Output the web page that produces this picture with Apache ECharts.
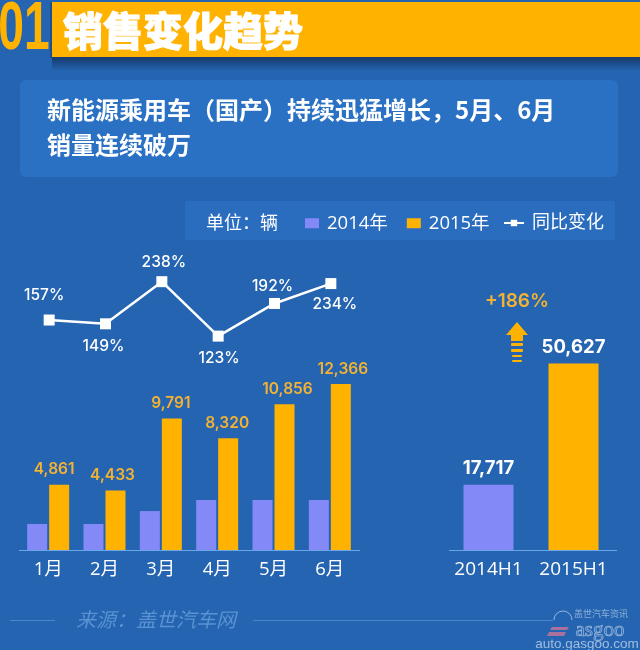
<!DOCTYPE html>
<html lang="zh">
<head>
  <meta charset="UTF-8">
  <title>销售变化趋势</title>
  <style>
    html, body { margin: 0; padding: 0; background: #2464b0; }
    #main { width: 640px; height: 650px; }
  </style>
  <script src="https://cdn.jsdelivr.net/npm/echarts@6/dist/echarts.min.js"></script>
</head>
<body>
  <div id="main"></div>
  <script>
    // 数据
    var months = ['1月', '2月', '3月', '4月', '5月', '6月'];
    var sales2014 = [1940, 1940, 2900, 3730, 3730, 3730];
    var sales2015 = [4861, 4433, 9791, 8320, 10856, 12366];
    var yoyChange = [157, 149, 238, 123, 192, 234];
    var halfNames = ['2014H1', '2015H1'];
    var halfValues = [17717, 50627];

    // 标签微调,和数据分开放
    var yoyLabelPos = ['top', 'bottom', 'top', 'bottom', 'top', 'bottom'];
    var yoyLabelNudge = [[-5, -5], [-2, 3], [2, 0], [1, 3], [-2, 2], [4, 1]];
    var barLabelNudge = [-5, -3, -1, -1, 3, 2];

    var PURPLE = '#8489f8';
    var ORANGE = '#ffb300';
    var LABEL_ORANGE = '#f3b233';
    var WHITE = '#ffffff';
    var FONT = '"Open Sans", "Noto Sans CJK SC", sans-serif';
    var NUM_FONT = 'Inter, "Open Sans", sans-serif';

    function fmt(v) {
      return String(v).replace(/\B(?=(\d{3})+$)/g, ',');
    }

    var mChart = echarts.init(document.getElementById('main'));

    var option = {
      backgroundColor: '#2464b0',
      textStyle: { fontFamily: FONT },
      animation: false,
      legend: [
        {
          left: 300, top: 209,
          icon: 'rect',
          itemWidth: 14, itemHeight: 10, itemGap: 19,
          data: ['2014年', '2015年'],
          textStyle: { color: WHITE, fontSize: 18.5, fontFamily: FONT, padding: [0, 0, 0, 3] }
        },
        {
          left: 498, top: 209,
          itemWidth: 20, itemHeight: 8,
          data: ['同比变化'],
          textStyle: { color: WHITE, fontSize: 18, fontFamily: FONT, padding: [0, 0, 0, 3] }
        }
      ],
      grid: [
        { left: 20, width: 338, top: 362, height: 188 },
        { left: 21, width: 338, top: 276, height: 71 },
        { left: 446, width: 170, top: 329, height: 221 }
      ],
      xAxis: [
        {
          type: 'category', gridIndex: 0, data: months,
          axisLine: { show: false }, axisTick: { show: false },
          axisLabel: { color: WHITE, fontSize: 18.5, margin: 10, interval: 0 }
        },
        { type: 'category', gridIndex: 1, data: months, show: false },
        {
          type: 'category', gridIndex: 2, data: halfNames,
          axisLine: { show: false }, axisTick: { show: false },
          axisLabel: { color: WHITE, fontSize: 19, margin: 10, interval: 0, hideOverlap: false }
        }
      ],
      yAxis: [
        { type: 'value', gridIndex: 0, min: 0, max: 14000, show: false },
        { type: 'value', gridIndex: 1, min: 100, max: 250, show: false },
        { type: 'value', gridIndex: 2, min: 0, max: 60000, show: false }
      ],
      series: [
        {
          name: '2014年', type: 'bar', xAxisIndex: 0, yAxisIndex: 0,
          data: sales2014, barWidth: 20, barGap: '10%',
          itemStyle: { color: PURPLE }
        },
        {
          name: '2015年', type: 'bar', xAxisIndex: 0, yAxisIndex: 0,
          barWidth: 20,
          data: sales2015.map(function (v, i) {
            return { value: v, label: { offset: [barLabelNudge[i], 0] } };
          }),
          itemStyle: { color: ORANGE },
          label: {
            show: true, position: 'top', distance: 7,
            color: LABEL_ORANGE, fontSize: 15.5, fontWeight: 600, fontFamily: NUM_FONT,
            formatter: function (p) { return fmt(p.value); }
          }
        },
        {
          name: '同比变化', type: 'line', xAxisIndex: 1, yAxisIndex: 1,
          data: yoyChange.map(function (v, i) {
            return { value: v, label: { position: yoyLabelPos[i], offset: yoyLabelNudge[i] } };
          }),
          symbol: 'rect', symbolSize: 11,
          lineStyle: { color: WHITE, width: 2.5 },
          itemStyle: { color: WHITE },
          label: {
            show: true, color: WHITE, fontSize: 15.5, fontWeight: 500, fontFamily: NUM_FONT, distance: 6,
            formatter: '{c}%'
          }
        },
        {
          name: '上半年', type: 'bar', xAxisIndex: 2, yAxisIndex: 2,
          barWidth: 50,
          data: halfValues.map(function (v, i) {
            return { value: v, itemStyle: { color: i === 0 ? PURPLE : ORANGE } };
          }),
          label: {
            show: true, position: 'top', distance: 7,
            color: WHITE, fontSize: 18.5, fontWeight: 'bold', fontFamily: NUM_FONT,
            formatter: function (p) { return fmt(p.value); }
          }
        }
      ],
      graphic: [
        // 标题栏
        {
          type: 'rect', z: -1, shape: { x: 52, y: 57, width: 588, height: 14 },
          style: {
            fill: new echarts.graphic.LinearGradient(0, 0, 0, 1, [
              { offset: 0, color: '#163a6c' },
              { offset: 1, color: '#2464b0' }
            ])
          }
        },
        { type: 'rect', shape: { x: 52, y: 2, width: 588, height: 55 }, style: { fill: ORANGE } },
        { type: 'rect', shape: { x: 50, y: 2, width: 2, height: 56 }, style: { fill: '#1c4f90' } },
        {
          type: 'text', x: 24, y: 30, scaleX: 0.68,
          style: {
            text: '01', fill: ORANGE, font: 'bold 68px "Liberation Sans"',
            textAlign: 'center', textVerticalAlign: 'middle'
          }
        },
        {
          type: 'text', x: 63, y: 31,
          style: {
            text: '销售变化趋势', fill: WHITE, font: '900 40px "Noto Sans CJK SC"',
            stroke: WHITE, lineWidth: 1,
            textVerticalAlign: 'middle'
          }
        },
        // 副标题
        { type: 'rect', shape: { x: 20, y: 80, width: 598, height: 97, r: 6 }, style: { fill: '#2a71c4' } },
        {
          type: 'text', x: 47, y: 110,
          style: {
            text: '新能源乘用车（国产）持续迅猛增长，5月、6月', fill: WHITE,
            font: 'bold 24px "Noto Sans CJK SC"', textVerticalAlign: 'middle'
          }
        },
        {
          type: 'text', x: 47, y: 145,
          style: {
            text: '销量连续破万', fill: WHITE,
            font: 'bold 24px "Noto Sans CJK SC"', textVerticalAlign: 'middle'
          }
        },
        // 图例背景和单位
        { type: 'rect', z: -1, shape: { x: 185, y: 201, width: 430, height: 39 }, style: { fill: '#2a6dbf' } },
        {
          type: 'text', x: 206, y: 222,
          style: { text: '单位：辆', fill: WHITE, font: '18px "Noto Sans CJK SC"', textVerticalAlign: 'middle' }
        },
        // 基线
        { type: 'rect', shape: { x: 19, y: 550, width: 341, height: 1 }, style: { fill: '#6aa6ea' } },
        { type: 'rect', shape: { x: 449, y: 550, width: 168, height: 1 }, style: { fill: '#6aa6ea' } },
        // 增幅
        {
          type: 'text', x: 517, y: 301,
          style: {
            text: '+186%', fill: LABEL_ORANGE, font: '600 19px Inter',
            textAlign: 'center', textVerticalAlign: 'middle'
          }
        },
        {
          type: 'polygon',
          shape: { points: [[517, 322], [528, 335], [523, 335], [523, 341], [511, 341], [511, 335], [506, 335]] },
          style: { fill: ORANGE }
        },
        { type: 'rect', shape: { x: 511, y: 343, width: 12, height: 3, r: 1 }, style: { fill: ORANGE } },
        { type: 'rect', shape: { x: 511, y: 349, width: 12, height: 3, r: 1 }, style: { fill: ORANGE } },
        { type: 'rect', shape: { x: 512, y: 355, width: 10, height: 2, r: 1 }, style: { fill: ORANGE } },
        { type: 'rect', shape: { x: 512, y: 360, width: 10, height: 2, r: 1 }, style: { fill: ORANGE } },
        // 来源
        { type: 'rect', shape: { x: 10, y: 620, width: 45, height: 1 }, style: { fill: '#4a86cc' } },
        { type: 'rect', shape: { x: 253, y: 620, width: 300, height: 1 }, style: { fill: '#4a86cc' } },
        {
          type: 'text', x: 76, y: 619,
          style: {
            text: '来源：盖世汽车网', fill: '#5a93d2',
            font: 'italic 20px "Noto Sans CJK SC"', textVerticalAlign: 'middle'
          }
        },
        // 水印
        {
          type: 'polygon',
          shape: { points: [[552, 627], [569, 627], [567, 630], [550, 630]] },
          style: { fill: 'rgba(225,120,150,0.7)' }
        },
        {
          type: 'polygon',
          shape: { points: [[549, 632], [566, 632], [564, 636], [547, 636]] },
          style: { fill: 'rgba(225,120,150,0.7)' }
        },
        {
          type: 'arc',
          shape: { cx: 563, cy: 620, r: 9, startAngle: Math.PI, endAngle: 2 * Math.PI },
          style: { stroke: 'rgba(225,235,250,0.6)', fill: null, lineWidth: 1 }
        },
        {
          type: 'text', x: 600, y: 630,
          style: {
            text: 'asgoo', fill: 'rgba(255,255,255,0.05)', stroke: 'rgba(225,235,250,0.6)', lineWidth: 0.7,
            font: '21px "Liberation Serif"', textAlign: 'center', textVerticalAlign: 'middle'
          }
        },
        {
          type: 'text', x: 587, y: 644,
          style: {
            text: 'auto.gasgoo.com', fill: 'rgba(225,235,250,0.65)',
            font: '13.5px "Liberation Sans"', textAlign: 'center', textVerticalAlign: 'middle'
          }
        },
        {
          type: 'text', x: 601, y: 614,
          style: {
            text: '盖世汽车资讯', fill: 'rgba(225,235,250,0.55)',
            font: '9px "Noto Sans CJK SC"', textAlign: 'center', textVerticalAlign: 'middle'
          }
        }
      ]
    };

    mChart.setOption(option);
  </script>
</body>
</html>
